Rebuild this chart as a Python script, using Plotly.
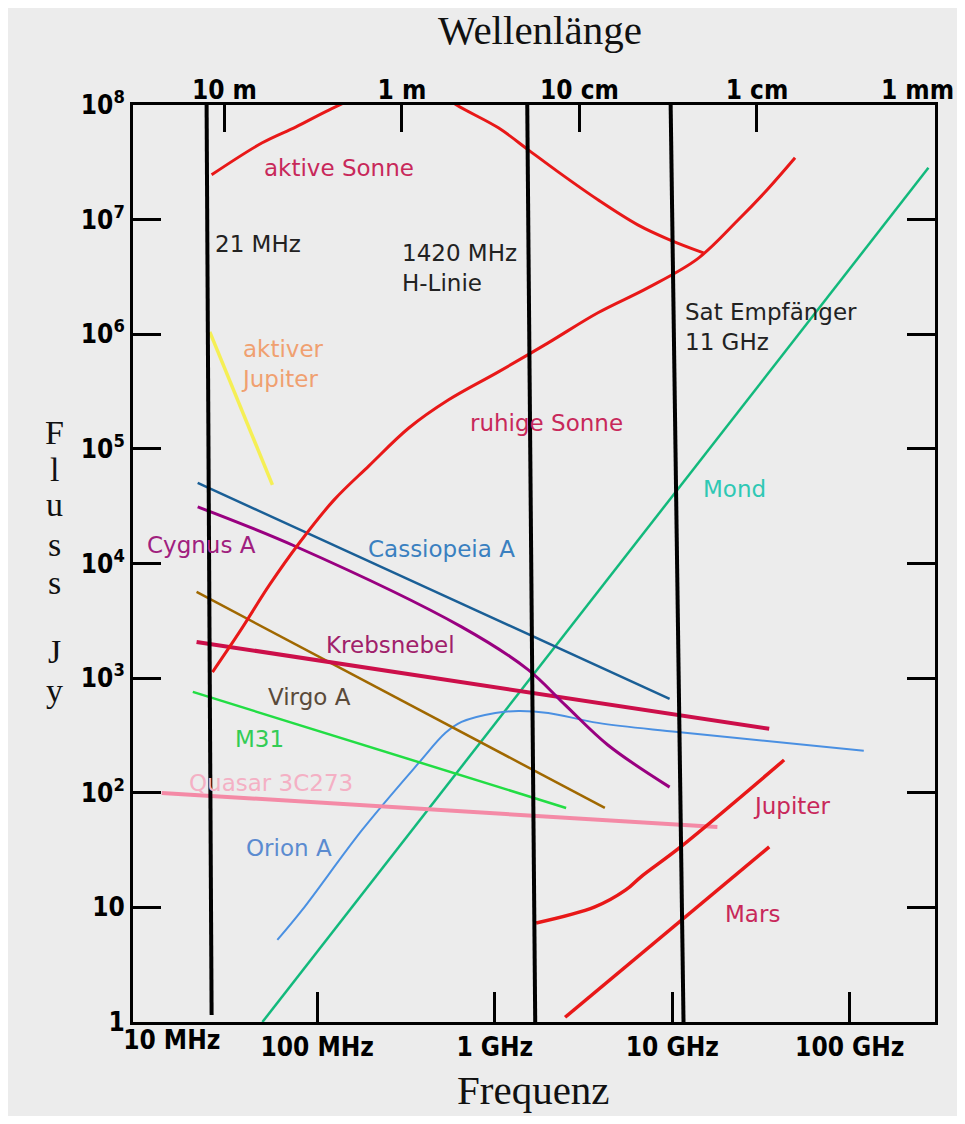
import numpy as np
import plotly.graph_objects as go

# ---------------- data (frequency in MHz, flux in Jy) ----------------
aktive_sonne_f = [25.4, 49, 76, 117, 195.5, 327.8, 483, 610, 1048, 1545, 2275, 3813, 6391, 9660, 14990]
aktive_sonne_s = [2.46e7, 4.68e7, 6.45e7, 9.08e7, 1.28e8, 1.47e8, 1.30e8, 1.0e8, 6.32e7, 4.06e7, 2.61e7, 1.49e7, 9.01e6, 6.67e6, 5.13e6]

ruhige_sonne_f = [25.7, 36.5, 53.8, 79.2, 124.4, 195.5, 327.8, 549.5, 1048, 1999, 3813, 7272, 13870, 23250, 34240, 49170]
ruhige_sonne_s = [1.13e3, 2.53e3, 6.5e3, 1.51e4, 3.59e4, 7.11e4, 1.52e5, 2.68e5, 4.70e5, 8.41e5, 1.54e6, 2.54e6, 4.55e6, 9.77e6, 1.82e7, 3.46e7]

akt_jupiter_f = [24.8, 55.9]
akt_jupiter_s = [1.05e6, 4.85e4]

cassiopeia_f = [21.2, 9660]
cassiopeia_s = [5.05e4, 658]

cygnus_f = [21.2, 76.2, 650, 1545, 2489, 4335, 9660]
cygnus_s = [3.12e4, 1.40e4, 2.80e3, 1.18e3, 584, 261, 112]

krebs_f = [20.9, 35160]
krebs_s = [2.07e3, 361]

virgo_f = [20.9, 4170]
virgo_s = [5.65e3, 73.7]

m31_f = [19.9, 2523]
m31_s = [758, 73.7]

quasar_f = [13.3, 17950]
quasar_s = [99.6, 50.3]

orion_f = [59.6, 82.3, 179, 373, 528, 650, 1007, 1358, 2000, 3811, 10720, 119900]
orion_s = [5.2, 9.5, 47.4, 182, 333, 415, 497, 517, 497, 407, 339, 232]

mond_f = [49.1, 277300]
mond_s = [1, 2.83e7]

jupiter_f = [1711, 3664, 5470, 6637, 11140, 42660]
jupiter_s = [7.31, 10.1, 14.2, 18.4, 33.7, 193]

mars_f = [2489, 35160]
mars_s = [1.1, 33.7]

# marked frequencies (lines are slightly slanted in the original drawing)
marker_f_top = [23.8, 1524, 9790]
marker_f_bottom = [25.4, 1690, 11570]
marker_s_top = [1e8, 1e8, 1e8]
marker_s_bottom = [1.15, 1, 1]

freq_ticks = [10, 100, 1000, 10000, 100000]
freq_labels = ["10 MHz", "100 MHz", "1 GHz", "10 GHz", "100 GHz"]
wave_ticks = [30, 300, 3000, 30000, 300000]
wave_labels = ["10 m", "1 m", "10 cm", "1 cm", "1 mm"]
flux_ticks = [1, 10, 1e2, 1e3, 1e4, 1e5, 1e6, 1e7, 1e8]
flux_labels = ["1", "10", "10<sup>2</sup>", "10<sup>3</sup>", "10<sup>4</sup>",
               "10<sup>5</sup>", "10<sup>6</sup>", "10<sup>7</sup>", "10<sup>8</sup>"]

# labels: (text, freq MHz, flux Jy, color, xanchor)
labels = [
    ("aktive Sonne", 133, 2.83e7, "#c8285a", "center"),
    ("21 MHz", 25.8, 6.15e6, "#222222", "left"),
    ("1420 MHz<br>H-Linie", 292, 3.8e6, "#222222", "left"),
    ("Sat Empfänger<br>11 GHz", 11430, 1.16e6, "#222222", "left"),
    ("aktiver<br>Jupiter", 63.6, 5.52e5, "#f0a070", "center"),
    ("ruhige Sonne", 1950, 1.69e5, "#c8285a", "center"),
    ("Mond", 14420, 4.48e4, "#2fc8b4", "left"),
    ("Cygnus A", 22.3, 1.45e4, "#a0207e", "center"),
    ("Cassiopeia A", 502, 1.34e4, "#3a80c0", "center"),
    ("Krebsnebel", 260, 1.95e3, "#a0206a", "center"),
    ("Virgo A", 90.2, 686, "#5a4a3a", "center"),
    ("M31", 47.2, 295, "#33cc55", "center"),
    ("Quasar 3C273", 55.2, 122, "#f4b0c4", "center"),
    ("Orion A", 69.6, 33.0, "#5b8bd0", "center"),
    ("Jupiter", 47300, 76.7, "#c8285a", "center"),
    ("Mars", 28200, 8.76, "#c8285a", "center"),
]

XR = [0.962, 5.48]
YR = [0, 8]
BG = "#ececec"

fig = go.Figure()

def add_line(f, s, color, width, shape="linear"):
    fig.add_trace(go.Scatter(x=f, y=s, mode="lines",
                             line=dict(color=color, width=width, shape=shape, smoothing=1.0),
                             showlegend=False, hoverinfo="skip"))

add_line(mond_f, mond_s, "#12b97c", 2.5)
add_line(orion_f, orion_s, "#4a90e2", 2, "spline")
add_line(quasar_f, quasar_s, "#f48aa6", 4)
add_line(m31_f, m31_s, "#22dd44", 2.5)
add_line(virgo_f, virgo_s, "#a06800", 2.5)
add_line(krebs_f, krebs_s, "#cc0f4a", 4)
add_line(cygnus_f, cygnus_s, "#990080", 3, "spline")
add_line(cassiopeia_f, cassiopeia_s, "#1a5f96", 2.5)
add_line(akt_jupiter_f, akt_jupiter_s, "#f5ef55", 3.5)
add_line(ruhige_sonne_f, ruhige_sonne_s, "#e81818", 3, "spline")
add_line(aktive_sonne_f, aktive_sonne_s, "#e81818", 3, "spline")
add_line(jupiter_f, jupiter_s, "#e81818", 3.5, "spline")
add_line(mars_f, mars_s, "#e81818", 3.5)

for ft, fb, st, sb in zip(marker_f_top, marker_f_bottom, marker_s_top, marker_s_bottom):
    add_line([ft, fb], [st, sb], "#000000", 4)

# dummy traces so the overlay axes are drawn
for ax in ["x2", "x3", "x4", "x5"]:
    fig.add_trace(go.Scatter(x=[None], y=[None], xaxis=ax, showlegend=False, hoverinfo="skip"))

tickfont = dict(family="Liberation Sans Narrow, DejaVu Sans Condensed, Arial Narrow, Roboto, sans-serif",
                size=26, color="#000000", weight="bold")

common_x = dict(type="log", range=XR, autorange=False, showgrid=False, zeroline=False,
                showline=False, automargin=False)

# Figure sized so that, with the browser's default 8 px page margin, the page is exactly 965 x 1124
fig.update_layout(
    width=949, height=1108, autosize=False,
    margin=dict(l=125, r=22, t=97, b=94),
    paper_bgcolor=BG, plot_bgcolor=BG,
    showlegend=False,
    xaxis=dict(type="log", range=XR, autorange=False, tickvals=freq_ticks[1:], ticktext=freq_labels[1:],
               ticks="", showgrid=False, zeroline=False, showline=True, linewidth=3,
               linecolor="#000", mirror=True, tickfont=tickfont, ticklabelstandoff=0,
               automargin=False),
    # first frequency label sits to the right of its position, as in the original
    xaxis4=dict(common_x, overlaying="x", side="bottom", anchor="y", tickvals=freq_ticks[:1],
                ticktext=freq_labels[:1], ticks="", tickfont=tickfont, ticklabelshift=32,
                ticklabelstandoff=0),
    xaxis2=dict(common_x, overlaying="x", side="top", anchor="y",
                tickvals=wave_ticks[:-1], ticktext=wave_labels[:-1], ticks="inside", ticklen=27,
                tickwidth=3, tickcolor="#000", tickfont=tickfont),
    xaxis5=dict(common_x, overlaying="x", side="top", anchor="y",
                tickvals=wave_ticks[-1:], ticktext=wave_labels[-1:], ticks="", tickfont=tickfont,
                ticklabelshift=-17, ticklabeloverflow="allow"),
    xaxis3=dict(common_x, overlaying="x", side="bottom", anchor="y",
                tickvals=freq_ticks[1:], ticks="inside", ticklen=30, tickwidth=3, tickcolor="#000",
                showticklabels=False),
    yaxis=dict(type="log", range=YR, autorange=False, tickvals=flux_ticks, ticktext=flux_labels,
               ticks="inside", ticklen=28, tickwidth=3, tickcolor="#000", showgrid=False,
               zeroline=False, showline=True, linewidth=3, linecolor="#000", mirror="ticks",
               tickfont=tickfont, ticklabelstandoff=0, automargin=False),
    font=dict(family="DejaVu Sans", size=23),
)

for text, f, s, color, xa in labels:
    fig.add_annotation(x=np.log10(f), y=np.log10(s), xref="x", yref="y", text=text,
                       showarrow=False, xanchor=xa, yanchor="middle", align="left",
                       font=dict(family="DejaVu Sans", size=23, color=color))

serif = "Liberation Serif, DejaVu Serif, serif"
fig.add_annotation(x=0.5075, y=1.082, xref="paper", yref="paper", text="Wellenlänge",
                   showarrow=False, xanchor="center", yanchor="middle",
                   font=dict(family=serif, size=41, color="#111"))
fig.add_annotation(x=0.4988, y=-0.074, xref="paper", yref="paper", text="Frequenz",
                   showarrow=False, xanchor="center", yanchor="middle",
                   font=dict(family=serif, size=41, color="#111"))

axis_letters = ["F", "l", "u", "s", "s", "J", "y"]
axis_letter_y = [0.6434, 0.602, 0.5638, 0.5202, 0.4798, 0.4035, 0.362]
for ch, yy in zip(axis_letters, axis_letter_y):
    fig.add_annotation(x=-0.0973, y=yy, xref="paper", yref="paper", text=ch, showarrow=False,
                       xanchor="center", yanchor="middle",
                       font=dict(family=serif, size=34, color="#111"))

fig.write_html("out.html", config={"displayModeBar": False})
